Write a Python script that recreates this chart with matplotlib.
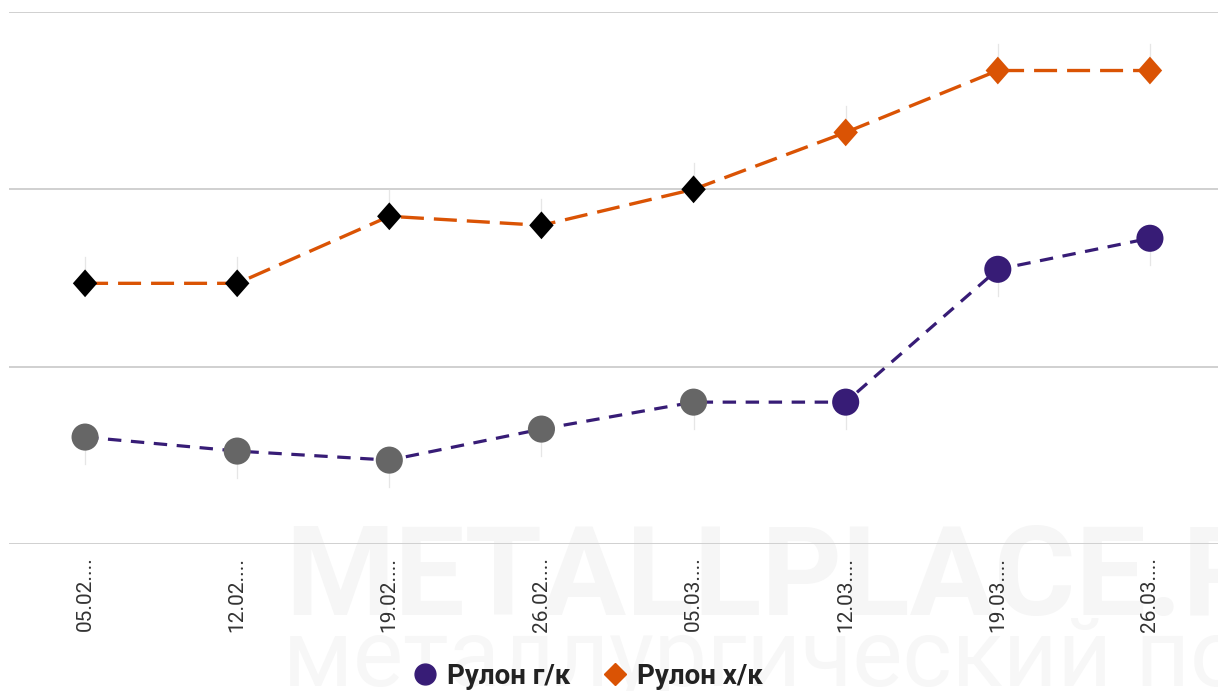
import matplotlib
matplotlib.use('Agg')
from matplotlib import pyplot as plt
from matplotlib.lines import Line2D

# Данные (условные единицы)
dates = ['05.02....', '12.02....', '19.02....', '26.02....',
         '05.03....', '12.03....', '19.03....', '26.03....']
hot_rolled = [56030, 55240, 54730, 56480, 58000, 58000, 65490, 67240]   # Рулон г/к
cold_rolled = [64700, 64700, 68480, 67970, 70000, 73210, 76700, 76700]  # Рулон х/к
grid_levels = [50000, 60000, 70000, 80000]

purple = '#371c76'
orange = '#da5304'
hr_colors = ['#666666'] * 5 + [purple] * 3
cr_colors = ['#000000'] * 5 + [orange] * 3

plt.rcParams['font.family'] = ['Roboto', 'DejaVu Sans']

fig = plt.figure(figsize=(12.18, 6.91), dpi=100)
fig.patch.set_facecolor('white')

# водяной знак (под графиком)
wm = fig.add_axes([0, 0, 1, 1], zorder=0)
wm.axis('off')
wm.text(285 / 1218, 1 - 615 / 691, 'METALLPLACE.RU', fontsize=90,
        fontweight='bold', color='#f6f6f6', ha='left', va='baseline')
wm.text(283 / 1218, 1 - 686 / 691, 'металлургический портал', fontsize=68,
        color='#f7f7f7', ha='left', va='baseline')

ax = fig.add_axes([9 / 1218, 147 / 691, 1217 / 1218, 532 / 691], zorder=1)
ax.patch.set_alpha(0)
x = list(range(len(dates)))

ax.set_xlim(-0.5, len(dates) - 0.5)
ax.set_ylim(grid_levels[0], grid_levels[-1])
for g in grid_levels:
    ax.axhline(g, color='#d0d0d0', lw=1.4, zorder=1)

# тонкие выноски подписей
stem = 1500
for xi, v in zip(x, cold_rolled):
    ax.plot([xi, xi], [v, v + stem], color='#e6e6e6', lw=0.9, zorder=2)
for xi, v in zip(x, hot_rolled):
    ax.plot([xi, xi], [v, v - stem], color='#e6e6e6', lw=0.9, zorder=2)

ax.plot(x, cold_rolled, color=orange, lw=2.4, linestyle=(0, (6.9, 3.0)), zorder=3)
ax.plot(x, hot_rolled, color=purple, lw=2.3, linestyle=(0, (4.2, 3.0)), zorder=3)

diamond = [(0, 1), (0.88, 0), (0, -1), (-0.88, 0), (0, 1)]
ax.scatter(x, cold_rolled, marker=diamond, s=20 ** 2, c=cr_colors,
           edgecolors='none', zorder=4)
ax.scatter(x, hot_rolled, marker='o', s=19.5 ** 2, c=hr_colors,
           edgecolors='none', zorder=4)

ax.set_xticks(x)
ax.set_xticklabels(dates, rotation=90, fontsize=15, color='#333333', va='top')
ax.tick_params(axis='x', length=0, pad=9)
ax.set_yticks([])
for s in ax.spines.values():
    s.set_visible(False)

handles = [
    Line2D([], [], marker='o', color=purple, linestyle='none', markersize=15),
    Line2D([], [], marker='D', color=orange, linestyle='none', markersize=11),
]
leg = fig.legend(handles, ['Рулон г/к', 'Рулон х/к'], loc='center',
                 bbox_to_anchor=(0.481, 1 - 676 / 691), ncol=2, frameon=False,
                 prop={'weight': 'bold', 'size': 20}, labelcolor='#222222',
                 handletextpad=0.2, columnspacing=1.0, handlelength=1.2)
leg.set_zorder(5)

plt.savefig('out.png', dpi=100)
